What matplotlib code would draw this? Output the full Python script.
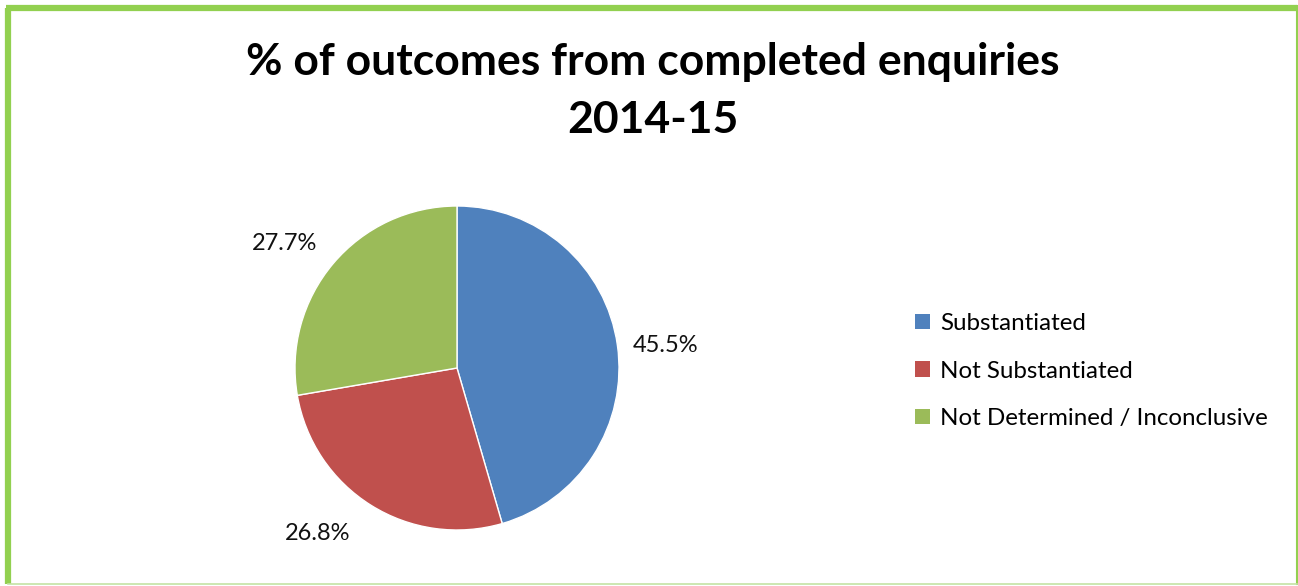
import matplotlib
matplotlib.use("Agg")
import matplotlib.pyplot as plt
from matplotlib.patches import Patch

labels = ["Substantiated", "Not Substantiated", "Not Determined / Inconclusive"]
shares = [45.5, 26.8, 27.7]
colors = ["#4F81BD", "#C0504D", "#9BBB59"]

W, H = 1298, 586
fig = plt.figure(figsize=(W / 100, H / 100), dpi=100)
ax = fig.add_axes([0, 0, 1, 1])
ax.axis("off")

# green frame: heavy on the left/top, thin on the right/bottom
frame = "#92D050"
ax.plot([8, 8], [2, H - 8], color=frame, lw=4.5, solid_capstyle="butt")
ax.plot([6, 1297], [H - 8, H - 8], color=frame, lw=4.5, solid_capstyle="butt")
ax.plot([1296.5, 1296.5], [2, H - 6], color=frame, lw=1.5)
ax.plot([8, 1297], [2, 2], color="#C4E3A4", lw=1.2)

wedges, texts, pcts = ax.pie(
    shares, colors=colors, startangle=90, counterclock=False,
    center=(457, H - 368), radius=162, autopct="%.1f%%", pctdistance=1.3,
    wedgeprops={"edgecolor": "white", "linewidth": 1.0},
    textprops={"fontsize": 17, "family": "Lato", "color": "#111111"},
)
# data labels nudged to where the chart puts them
for t, (x, y) in zip(pcts, [(666, 345), (318, 533), (285, 243)]):
    t.set_position((x, H - y))

ax.set_xlim(0, W)
ax.set_ylim(0, H)
ax.set_aspect("equal")

ax.text(653, H - 62, "% of outcomes from completed enquiries", ha="center", va="center",
        fontsize=32, fontweight="bold", family="Lato")
ax.text(653, H - 120, "2014-15", ha="center", va="center",
        fontsize=32, fontweight="bold", family="Lato")

handles = [Patch(facecolor=c, edgecolor="none") for c in colors]
ax.legend(handles, labels, loc="center left", bbox_to_anchor=(915 / W, 1 - 371 / H),
          frameon=False, prop={"family": "Lato", "size": 17.4},
          handlelength=0.62, handleheight=0.62, handletextpad=0.42, labelspacing=1.1,
          borderaxespad=0, borderpad=0)

fig.savefig("out.png", dpi=100)
